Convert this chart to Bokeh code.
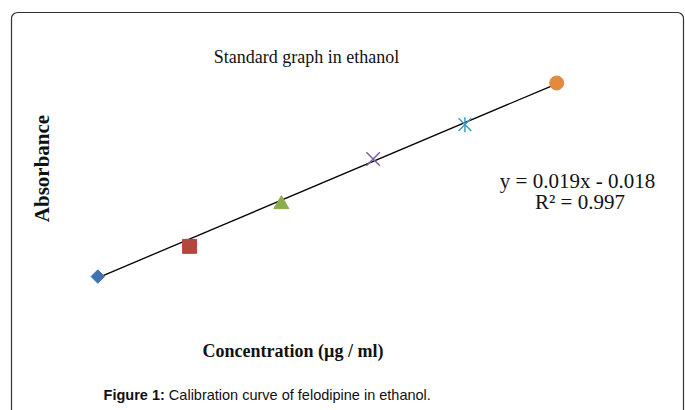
import math
from bokeh.plotting import figure
from bokeh.models import Label, Range1d, BoxAnnotation
from bokeh.embed import file_html
from bokeh.resources import INLINE

# ---- data ----
conc = [5, 10, 15, 20, 25, 30]                      # µg / ml
absorbance = [0.080, 0.154, 0.257, 0.368, 0.452, 0.554]
series_markers = ["diamond", "square", "triangle", "x", "star", "circle"]
series_colors = ["#3F72B0", "#B5453F", "#8BAD4E", "#7D5FA6", "#3C9EC2", "#E38A3D"]
trend_slope = 0.019
trend_intercept = -0.018
r_squared = 0.997

title_text = "Standard graph in ethanol"
x_title = "Concentration (µg / ml)"
y_title = "Absorbance"
caption_bold = "Figure 1:"
caption_rest = "Calibration curve of felodipine in ethanol."

W, H = 685, 410
p = figure(width=W, height=H, output_backend="svg", toolbar_location=None,
           x_range=Range1d(-0.3007, 37.016), y_range=Range1d(-0.2479, 0.7560),
           x_axis_location=None, y_axis_location=None,
           min_border_left=0, min_border_right=0, min_border_top=0,
           min_border_bottom=0)
p.grid.visible = False
p.outline_line_color = None
p.background_fill_color = "white"
p.border_fill_color = "white"

xr, yr = p.x_range, p.y_range

def dx(px):
    # screen pixel -> data x
    return xr.start + px * (xr.end - xr.start) / W

def dy(py):
    return yr.end - py * (yr.end - yr.start) / H

# chart-area border (rounded, open at the bottom of the view)
p.add_layout(BoxAnnotation(left=dx(11), right=dx(683), top=dy(12), bottom=dy(430),
                           fill_alpha=0, line_color="#333333", line_alpha=1.0,
                           line_width=1.2, border_radius=6))

# trend line
x0, x1 = min(conc), max(conc)
p.line([x0, x1], [trend_slope * x0 + trend_intercept, trend_slope * x1 + trend_intercept],
       line_color="black", line_width=1.3)

# markers
for xv, yv, mk, col in zip(conc, absorbance, series_markers, series_colors):
    if mk == "diamond":
        p.scatter([xv], [yv], marker="square", angle=math.pi / 4, size=9.5,
                  fill_color=col, line_color=col)
    elif mk == "square":
        p.scatter([xv], [yv], marker="square", size=14, fill_color=col, line_color=col)
    elif mk == "triangle":
        p.scatter([xv], [yv], marker="triangle", size=15, fill_color=col, line_color=col)
    elif mk == "x":
        p.scatter([xv], [yv], marker="x", size=19, line_color=col, line_width=1.5)
    elif mk == "star":
        p.scatter([xv], [yv], marker="x", size=18, line_color=col, line_width=1.5)
        p.scatter([xv], [yv], marker="dash", angle=math.pi / 2, size=15,
                  line_color=col, line_width=1.5)
    else:
        p.scatter([xv], [yv], marker="circle", size=14, fill_color=col, line_color=col)

p.add_layout(Label(x=dx(306), y=dy(56), text=title_text, text_font="Liberation Serif",
                   text_font_size="18px", text_align="center", text_baseline="alphabetic",
                   text_color="#111111"))

eq_text = f"y = {trend_slope:.3f}x - {abs(trend_intercept):.3f}"
r2_text = f"R² = {r_squared:.3f}"
p.add_layout(Label(x=dx(577), y=dy(180), text=eq_text, text_font="Liberation Serif",
                   text_font_size="21px", text_align="center", text_baseline="alphabetic",
                   text_color="#111111"))
p.add_layout(Label(x=dx(579.5), y=dy(201.5), text=r2_text, text_font="Liberation Serif",
                   text_font_size="21px", text_align="center", text_baseline="alphabetic",
                   text_color="#111111"))

p.add_layout(Label(x=dx(292.5), y=dy(350.5), text=x_title, text_font="Liberation Serif",
                   text_font_size="18px", text_font_style="bold", text_align="center",
                   text_baseline="alphabetic", text_color="#111111"))
p.add_layout(Label(x=dx(41), y=dy(168), text=y_title, text_font="Liberation Serif",
                   text_font_size="21px", text_font_style="bold", text_align="center",
                   text_baseline="alphabetic", angle=math.pi / 2, text_color="#111111"))

cap_size = 14.5
bold_w = 4.223 * cap_size
space_w = 0.278 * cap_size
rest_w = 18.064 * cap_size
cap_left = 266.7 - (bold_w + space_w + rest_w) / 2
p.add_layout(Label(x=dx(cap_left), y=dy(394), text=caption_bold, text_font="Liberation Sans",
                   text_font_size=f"{cap_size}px", text_font_style="bold", text_align="left",
                   text_baseline="alphabetic", text_color="#111111"))
p.add_layout(Label(x=dx(cap_left + bold_w + space_w), y=dy(394), text=caption_rest,
                   text_font="Liberation Sans", text_font_size=f"{cap_size}px",
                   text_align="left", text_baseline="alphabetic", text_color="#111111"))

open("out.html", "w").write(file_html(p, INLINE))
